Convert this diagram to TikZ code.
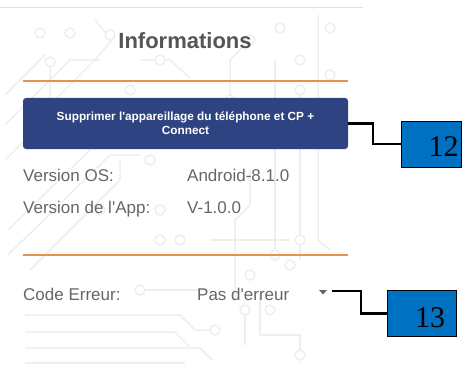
\documentclass[tikz,border=0pt]{standalone}
\usepackage{fontspec}
\setmainfont{Liberation Sans}
\newfontfamily\numfont{Liberation Serif}
\definecolor{btnblue}{HTML}{2E4482}
\definecolor{callblue}{HTML}{0070C0}
\definecolor{sepline}{HTML}{E39350}
\definecolor{txtgray}{HTML}{666666}
\definecolor{headgray}{HTML}{555555}
\definecolor{tracegray}{HTML}{EEEEEE}

\begin{document}
\begin{tikzpicture}[x=1pt,y=-1pt,
  lbl/.style={anchor=base west,inner sep=0pt,text=txtgray,font=\fontsize{17}{20}\selectfont},
  sep/.style={draw=sepline,line width=1.5pt},
  callbox/.style={draw=black,fill=callblue,line width=0.8pt,inner sep=0pt},
  callnum/.style={inner sep=0pt,font=\numfont\fontsize{30}{30}\selectfont},
  callline/.style={line width=2.2pt},
  tr/.style={draw=tracegray,line width=1.5pt},
  pad/.style={draw=tracegray,line width=1.5pt,fill=white}]
\useasboundingbox (0,0) rectangle (462,374);

% faint circuit background
\draw[tr] (5,95) -- (45,55);
\draw[tr] (5,125) -- (70,60) -- (100,60);
\draw[tr] (5,160) -- (50,115) -- (50,62);
\draw[tr] (95,20) -- (112,40) -- (95,60) -- (50,105);
\draw[tr] (8,230) -- (100,140) -- (150,140);
\draw[tr] (8,255) -- (110,155) -- (140,155);
\draw[tr] (30,270) -- (120,180) -- (120,160);
\draw[tr] (140,60) -- (170,60) -- (190,78);
\draw[tr] (230,95) -- (230,60) -- (250,40);
\draw[tr] (275,60) -- (275,250);
\draw[tr] (300,90) -- (300,260);
\draw[tr] (318,15) -- (318,240) -- (330,250);
\draw[tr] (250,170) -- (250,205) -- (235,220) -- (235,300);
\draw[tr] (260,295) -- (260,335) -- (300,335) -- (300,355);
\draw[tr] (140,290) -- (210,290);
\draw[tr] (25,315) -- (180,315) -- (195,330) -- (215,330);
\draw[tr] (25,332) -- (175,332) -- (190,347);
\draw[tr] (25,348) -- (200,348) -- (212,360);
\draw[tr] (25,363) -- (185,363);
\draw[tr] (245,315) -- (245,345);
\draw[tr] (210,240) -- (290,240);
\foreach \px/\py in {40/33,70/33,50/62,110/35,160/60,130/90,180/130,
  150/160,100/210,160/210,180/240,230/100,250/40,280/28,300/60,
  330/28,330/75,300/90,275/255,300/240,290/265,250/275,140/290,
  270/310,245/310,300/355,215/330,160/240}
  \draw[pad] (\px,\py) circle (5);

% top edge of the screen
\draw[draw=gray!25,line width=0.8pt] (0,7) -- (363,7);

\node[anchor=base,inner sep=0pt,text=headgray,font=\bfseries\fontsize{22}{26}\selectfont] (title) at (185,49) {Informations};
\draw[sep] (23,81) -- (348,81);
\node[fill=btnblue,rounded corners=3pt,minimum width=325pt,minimum height=51pt,text=white,align=center,font=\bfseries\fontsize{11.8}{14}\selectfont] (btn) at (185.5,123.5) {Supprimer l\textquotesingle appareillage du téléphone et CP +\\Connect};

\node[lbl] (os) at (23,181) {Version OS:};
\node[lbl] (osval) at (187,181) {Android-8.1.0};
\node[lbl] (app) at (23,213) {Version de l\textquotesingle App:};
\node[lbl] (appval) at (187,213) {V-1.0.0};
\draw[sep] (23,255) -- (348,255);
\node[lbl] (err) at (23,300) {Code Erreur:};
\node[lbl] (errval) at (197,300) {Pas d\textquotesingle erreur};
\fill[txtgray] (319,290) -- (327,290) -- (323,294.5) -- cycle;
\coordinate (drop) at (332,291);

% callouts
\node[callbox,minimum width=60pt,minimum height=46pt] (box12) at (431,144) {};
\node[callnum] (n12) at (443.5,147) {12};
\draw[callline] (btn.east) -- ++(25,0) |- (box12.west);

\node[callbox,minimum width=69pt,minimum height=46pt] (box13) at (421.5,313.5) {};
\node[callnum] (n13) at (430,318) {13};
\draw[callline] (drop) -- ++(29,0) |- (box13.west);
\end{tikzpicture}
\end{document}
